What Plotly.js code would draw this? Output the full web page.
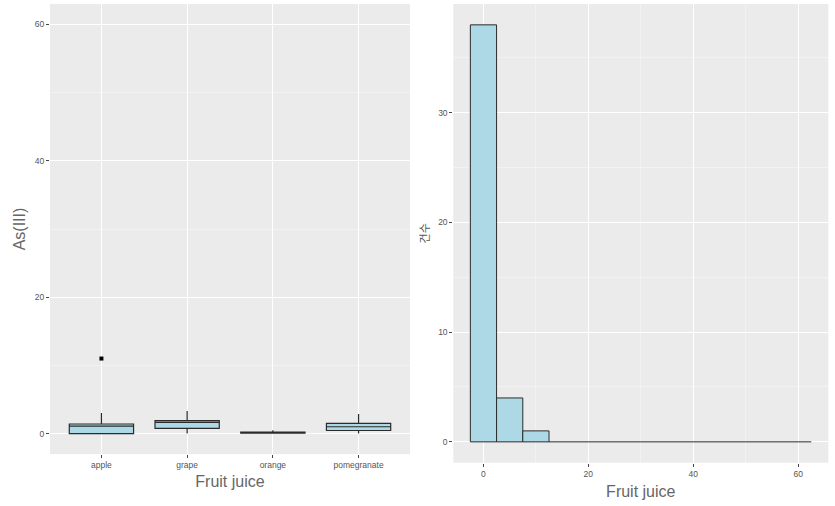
<!DOCTYPE html>
<html>
<head>
<meta charset="utf-8">
<script src="https://cdn.plot.ly/plotly-3.0.1.min.js"></script>
<style>html,body{margin:0;padding:0;background:#fff;}#chart{width:835px;height:506px;}</style>
</head>
<body>
<div id="chart"></div>
<script>
// Box plot data (As(III) by fruit juice)
const juices = ["apple", "grape", "orange", "pomegranate"];
const q1 = [0.0, 0.75, 0.05, 0.45];
const median = [1.1, 1.65, 0.12, 1.0];
const q3 = [1.4, 1.9, 0.2, 1.5];
const lowerFence = [0.0, 0.0, 0.0, 0.0];
const upperFence = [3.0, 3.3, 0.5, 2.85];
const outlierJuice = ["apple"];
const outlierValue = [11.0];

// Histogram data (binwidth 5)
const binCenters = [0, 5, 10, 15, 20, 25, 30, 35, 40, 45, 50, 55, 60];
const binCounts = [38, 4, 1, 0, 0, 0, 0, 0, 0, 0, 0, 0, 0];
const binWidth = 5;

const fill = "#ADD8E6";
const edge = "#2b2b2b";

// zero-count bins drawn as flat outline
const zeroX = [];
const zeroY = [];
binCenters.forEach((c, i) => {
  if (binCounts[i] === 0) {
    zeroX.push(c - binWidth / 2, c + binWidth / 2);
    zeroY.push(0, 0);
  }
});
const nzX = [], nzY = [];
binCenters.forEach((c, i) => { if (binCounts[i] > 0) { nzX.push(c); nzY.push(binCounts[i]); } });

const traces = [
  {
    type: "box", x: juices, q1: q1, median: median, q3: q3,
    lowerfence: lowerFence, upperfence: upperFence,
    fillcolor: fill, line: {color: edge, width: 1.2}, whiskerwidth: 0,
    width: 0.75, boxpoints: false, xaxis: "x", yaxis: "y", hoverinfo: "skip"
  },
  {
    type: "scatter", mode: "markers", x: outlierJuice, y: outlierValue,
    marker: {color: "#000", size: 4, symbol: "square"}, xaxis: "x", yaxis: "y"
  },
  {
    type: "bar", x: nzX, y: nzY, width: binWidth,
    marker: {color: fill, line: {color: edge, width: 1}},
    xaxis: "x2", yaxis: "y2"
  },
  {
    type: "scatter", mode: "lines", x: zeroX, y: zeroY,
    line: {color: edge, width: 1}, xaxis: "x2", yaxis: "y2"
  }
];

const tickFont = {family: "Liberation Sans, Arial, sans-serif", size: 8.5, color: "#555555"};
const titleFont = {family: "Liberation Sans, Arial, sans-serif", size: 16, color: "#666666"};
const common = {
  showline: false, zeroline: false, ticks: "outside", ticklen: 3, tickwidth: 1,
  tickcolor: "#444", tickfont: tickFont, gridcolor: "#FFFFFF", gridwidth: 1,
  automargin: false, fixedrange: true
};

const layout = {
  width: 835, height: 506,
  margin: {l: 0, r: 0, t: 0, b: 0},
  paper_bgcolor: "#FFFFFF", plot_bgcolor: "#EBEBEB",
  showlegend: false,
  font: {family: "Liberation Sans, Arial, sans-serif"},
  xaxis: Object.assign({}, common, {
    domain: [50/835, 410/835], type: "category", range: [-0.6, 3.6],
    anchor: "y", title: {text: "Fruit juice", font: titleFont, standoff: 6}
  }),
  yaxis: Object.assign({}, common, {
    domain: [1 - 454/506, 1 - 4/506], range: [-3, 63], dtick: 20, tick0: 0,
    minor: {dtick: 10, tick0: 0, showgrid: true, gridcolor: "#F7F7F7", gridwidth: 0.6, ticks: ""},
    anchor: "x", title: {text: "As(III)", font: titleFont, standoff: 5}
  }),
  xaxis2: Object.assign({}, common, {
    domain: [453.3/835, 828.3/835], range: [-5.75, 65.75], dtick: 20, tick0: 0,
    minor: {dtick: 10, tick0: 0, showgrid: true, gridcolor: "#F7F7F7", gridwidth: 0.6, ticks: ""},
    anchor: "y2", title: {text: "Fruit juice", font: titleFont, standoff: 7}
  }),
  yaxis2: Object.assign({}, common, {
    domain: [1 - 462.7/506, 1 - 4/506], range: [-1.9, 39.9], dtick: 10, tick0: 0,
    minor: {dtick: 5, tick0: 0, showgrid: true, gridcolor: "#F7F7F7", gridwidth: 0.6, ticks: ""},
    anchor: "x2", title: {text: "건수", font: {family: "Noto Sans CJK KR, sans-serif", size: 11, color: "#555555"}, standoff: 6}
  }),
  bargap: 0
};

Plotly.newPlot("chart", traces, layout, {displayModeBar: false, staticPlot: true});
</script>
</body>
</html>
